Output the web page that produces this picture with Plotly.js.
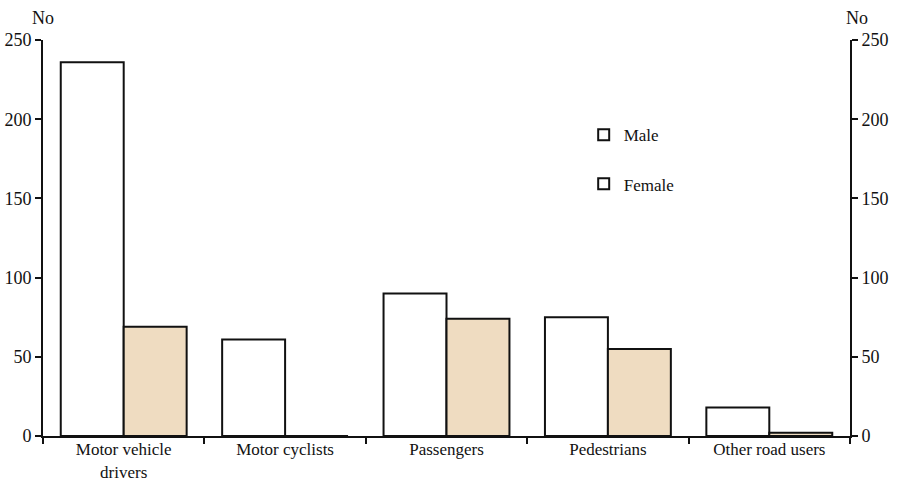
<!DOCTYPE html>
<html>
<head>
<meta charset="utf-8">
<script src="https://cdn.plot.ly/plotly-3.0.1.min.js"></script>
<style>html,body{margin:0;padding:0;background:#fff;}#chart{width:897px;height:483px;}</style>
</head>
<body>
<div id="chart"></div>
<script>
var categories = ["Motor vehicle<br>drivers", "Motor cyclists", "Passengers", "Pedestrians", "Other road users"];
var male = [236, 61, 90, 75, 18];
var female = [69, 0, 74, 55, 2];
var yTicks = [0, 50, 100, 150, 200, 250];

var font = {family: "Liberation Serif, Times New Roman, serif", size: 18, color: "#111"};
var xfont = {family: "Liberation Serif, Times New Roman, serif", size: 17, color: "#111"};

var traces = [
  {type: "bar", name: "Male", x: categories, y: male, marker: {color: "#ffffff", line: {color: "#111", width: 2}}, showlegend: false, hoverinfo: "none"},
  {type: "bar", name: "Female", x: categories, y: female, marker: {color: "#efdcc1", line: {color: "#111", width: 2}}, showlegend: false, hoverinfo: "none"},
  {type: "scatter", mode: "markers", name: "Male", x: [null], y: [null], legendgroup: "m", marker: {symbol: "square", size: 11, color: "#fff", line: {color: "#111", width: 2}}},
  {type: "scatter", mode: "markers", name: "Female", x: [null], y: [null], legendgroup: "f", marker: {symbol: "square", size: 11, color: "#fff", line: {color: "#111", width: 2}}},
  {type: "scatter", mode: "markers", x: [categories[0]], y: [null], yaxis: "y2", showlegend: false, hoverinfo: "none"}
];

var layout = {
  width: 897, height: 483,
  margin: {l: 43, r: 47, t: 40, b: 47},
  paper_bgcolor: "#fff", plot_bgcolor: "#fff",
  font: font,
  barmode: "group", bargap: 0.22, bargroupgap: 0,
  showlegend: true,
  legend: {x: 0.67, y: 0.805, xanchor: "left", yanchor: "top", tracegroupgap: 24, font: {family: font.family, size: 17, color: "#111"}, bgcolor: "rgba(0,0,0,0)"},
  xaxis: {
    showline: true, linecolor: "#111", linewidth: 2, ticks: "outside", tickson: "boundaries",
    ticklen: 6, tickwidth: 2, tickcolor: "#111", showgrid: false, zeroline: false, fixedrange: true, tickfont: xfont,
    ticklabelstandoff: -3
  },
  yaxis: {
    range: [0, 250], tickvals: yTicks, showline: true, linecolor: "#111", linewidth: 2,
    ticks: "outside", ticklen: 6, tickwidth: 2, tickcolor: "#111", showgrid: false, zeroline: false, tickfont: font
  },
  yaxis2: {
    range: [0, 250], tickvals: yTicks, overlaying: "y", side: "right", showline: true, linecolor: "#111", linewidth: 2,
    ticks: "outside", ticklen: 6, tickwidth: 2, tickcolor: "#111", showgrid: false, zeroline: false, tickfont: font
  },
  annotations: [
    {text: "No", xref: "paper", yref: "paper", x: 0, y: 1, xanchor: "center", yanchor: "bottom", yshift: 10, showarrow: false, font: font},
    {text: "No", xref: "paper", yref: "paper", x: 1, y: 1, xanchor: "center", yanchor: "bottom", yshift: 10, xshift: 7, showarrow: false, font: font}
  ]
};

Plotly.newPlot("chart", traces, layout, {displayModeBar: false, staticPlot: true});
</script>
</body>
</html>
